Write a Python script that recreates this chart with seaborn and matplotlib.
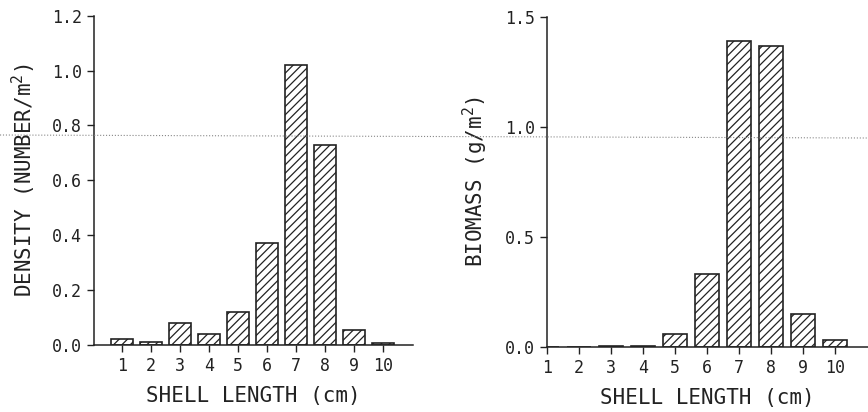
import numpy as np
import pandas as pd
import matplotlib
matplotlib.use("Agg")
import matplotlib.pyplot as plt
from matplotlib.lines import Line2D
import seaborn as sns

# Shell length classes (cm) and values
shell_length = [1, 2, 3, 4, 5, 6, 7, 8, 9, 10]
density = [0.02, 0.01, 0.08, 0.04, 0.12, 0.37, 1.02, 0.73, 0.055, 0.005]
biomass = [0.0, 0.001, 0.003, 0.003, 0.06, 0.33, 1.39, 1.37, 0.15, 0.03]

density_ticks = [0.0, 0.2, 0.4, 0.6, 0.8, 1.0, 1.2]
biomass_ticks = [0.0, 0.5, 1.0, 1.5]

sns.set_style("ticks")
plt.rcParams['font.family'] = ['DejaVu Sans Mono', 'DejaVu Sans']
plt.rcParams['mathtext.default'] = 'regular'
plt.rcParams['hatch.linewidth'] = 0.9
plt.rcParams['hatch.color'] = '#222222'

ink = '#222222'
fig = plt.figure(figsize=(8.68, 4.12), dpi=100)
ax1 = fig.add_axes([0.108, 0.163, 0.368, 0.799])
ax2 = fig.add_axes([0.630, 0.158, 0.370, 0.800])

df1 = pd.DataFrame({'length': shell_length, 'value': density})
df2 = pd.DataFrame({'length': shell_length, 'value': biomass})

for ax, df, ticks, label, xlim, ypad in [
    (ax1, df1, density_ticks, 'DENSITY (NUMBER/m$^2$)', (0.03, 11.03), 10),
    (ax2, df2, biomass_ticks, 'BIOMASS (g/m$^2$)', (1.0, 11.03), 11),
]:
    sns.barplot(data=df, x='length', y='value', native_scale=True, width=0.76,
                color='white', edgecolor=ink, linewidth=1.2, hatch='////',
                errorbar=None, ax=ax)
    ax.set_xlim(*xlim)
    ax.set_ylim(0, ticks[-1])
    ax.set_xticks(shell_length)
    ax.set_xticklabels([str(v) for v in shell_length])
    ax.set_yticks(ticks)
    ax.set_yticklabels([f'{t:.1f}' for t in ticks])
    ax.set_xlabel('SHELL LENGTH (cm)', fontsize=15, color=ink, labelpad=8)
    ax.set_ylabel(label, fontsize=15, color=ink, labelpad=ypad)
    ax.tick_params(axis='both', labelsize=12, colors=ink, length=5, width=1, direction='out')
    for side in ['top', 'right']:
        ax.spines[side].set_visible(False)
    for side in ['left', 'bottom']:
        ax.spines[side].set_color(ink)
        ax.spines[side].set_linewidth(1.1)

# faint dotted scan line across the page
fig.add_artist(Line2D([0, 1], [1 - 135 / 412, 1 - 138 / 412], transform=fig.transFigure,
                      color='#888888', linestyle=':', linewidth=0.8))

fig.savefig('out.png', dpi=100)
